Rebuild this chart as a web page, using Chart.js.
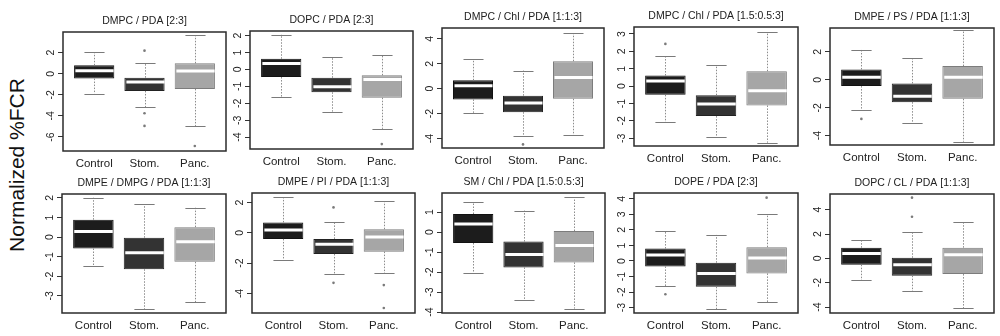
<!DOCTYPE html>
<html>
<head>
<meta charset="utf-8">
<script src="https://cdn.jsdelivr.net/npm/chart.js@4.4.0/dist/chart.umd.min.js"></script>
<style>
  body { margin: 0; background: #fff; width: 1000px; height: 336px; overflow: hidden; position: relative;
         font-family: 'Liberation Sans', Arial, sans-serif; }
  .panel { position: absolute; }
  #ylab { position: absolute; left: 17px; top: 165px; transform: translate(-50%, -50%) rotate(-90deg);
          font-size: 21px; white-space: nowrap; color: #111; }
</style>
</head>
<body>
<div id="ylab">Normalized %FCR</div>
<script>
const categories = ['Control', 'Stom.', 'Panc.'];
const titles = [
  'DMPC / PDA [2:3]', 'DOPC / PDA [2:3]', 'DMPC / Chl / PDA [1:1:3]', 'DMPC / Chl / PDA [1.5:0.5:3]', 'DMPE / PS / PDA [1:1:3]',
  'DMPE / DMPG / PDA [1:1:3]', 'DMPE / PI / PDA [1:1:3]', 'SM / Chl / PDA [1.5:0.5:3]', 'DOPE / PDA [2:3]', 'DOPC / CL / PDA [1:1:3]'
];

// box plot statistics, one row per panel, one value per category
const whiskerLow = [
  [-1.89, -3.18, -4.95], [-1.65, -2.49, -3.51], [-1.93, -3.76, -3.70], [-2.07, -2.93, -3.25], [-2.13, -3.09, -4.43],
  [-1.47, -3.69, -3.31], [-1.77, -2.74, -2.65], [-2.05, -3.42, -3.83], [-1.62, -3.09, -2.66], [-1.81, -2.71, -4.08]
];
const q1 = [
  [-0.46, -1.63, -1.44], [-0.45, -1.35, -1.67], [-0.86, -1.88, -0.81], [-0.50, -1.72, -1.11], [-0.45, -1.60, -1.36],
  [-0.58, -1.64, -1.26], [-0.40, -1.39, -1.24], [-0.55, -1.77, -1.52], [-0.35, -1.66, -0.80], [-0.52, -1.42, -1.29]
];
const median = [
  [0.29, -0.78, 0.26], [0.35, -1.02, -0.59], [0.24, -1.15, 0.89], [0.29, -1.03, -0.27], [0.19, -1.17, 0.19],
  [0.29, -0.80, -0.24], [0.18, -0.75, -0.27], [0.40, -1.13, -0.68], [0.39, -0.80, 0.19], [0.41, -0.52, 0.30]
];
const q3 = [
  [0.80, -0.37, 0.99], [0.63, -0.49, -0.35], [0.67, -0.56, 2.20], [0.61, -0.52, 0.86], [0.74, -0.26, 0.98],
  [0.89, -0.03, 0.51], [0.69, -0.40, 0.24], [0.90, -0.48, 0.05], [0.80, -0.11, 0.89], [0.88, 0.05, 0.88]
];
const whiskerHigh = [
  [2.03, 1.05, 3.67], [2.06, 0.75, 0.88], [2.36, 1.45, 4.46], [1.74, 1.20, 3.10], [2.15, 1.53, 3.54],
  [2.01, 1.67, 1.50], [2.35, 0.71, 2.08], [1.50, 1.07, 1.73], [1.90, 1.68, 3.02], [1.53, 2.14, 2.99]
];
const outliers = [
  [[], [2.19, -3.75, -4.95], [-6.85]], [[], [], [-4.41]], [[], [-4.46], []], [[2.43], [], []], [[-2.8], [], []],
  [[], [], []], [[], [1.68, -3.3], [-3.45, -4.96]], [[], [], []], [[-2.14], [], [4.08]], [[], [4.99, 3.42], []]
];

const yTicks = [
  [-6, -4, -2, 0, 2], [-4, -3, -2, -1, 0, 1, 2], [-4, -2, 0, 2, 4], [-3, -2, -1, 0, 1, 2, 3], [-4, -2, 0, 2],
  [-3, -2, -1, 0, 1, 2], [-4, -2, 0, 2], [-4, -3, -2, -1, 0, 1], [-3, -2, -1, 0, 1, 2, 3, 4], [-4, -2, 0, 2, 4]
];
const yMin = [-7.33, -4.70, -4.75, -3.44, -4.67, -3.87, -5.29, -4.05, -3.35, -4.49];
const yMax = [3.96, 2.27, 4.86, 3.40, 3.71, 2.20, 2.63, 1.95, 4.38, 5.29];

// plot area of each panel on the page: left, top, right, bottom
const plotRects = [
  [63, 32, 227, 151], [250, 31, 414, 149], [442, 28, 605, 148], [634, 27, 799, 146], [830, 28, 995, 145],
  [62, 194, 226, 313], [252, 193, 416, 313], [442, 193, 605, 313], [634, 193, 799, 313], [830, 194, 995, 313]
];
const PAD_L = 34, PAD_T = 30, PAD_R = 3, PAD_B = 26;

const boxFill = ['#1c1c1c', '#333333', '#a6a6a6'];
const boxEdge = ['#111111', '#222222', '#7c7c7c'];
const FONT = "'Liberation Sans', Arial, sans-serif";

const boxExtras = {
  id: 'boxExtras',
  afterDatasetsDraw(chart) {
    const p = chart.options.plugins.boxExtras.panel;
    const xs = chart.scales.x, ys = chart.scales.y, ctx = chart.ctx;
    const bars = chart.getDatasetMeta(0).data;
    ctx.save();
    categories.forEach((c, i) => {
      const x = Math.round(xs.getPixelForValue(i + 1)) + 0.5;
      const half = bars[i].width / 2;
      ctx.strokeStyle = '#8c8c8c';
      ctx.lineWidth = 1;
      ctx.setLineDash([1.5, 1.5]);
      ctx.beginPath();
      ctx.moveTo(x, ys.getPixelForValue(q3[p][i]));
      ctx.lineTo(x, ys.getPixelForValue(whiskerHigh[p][i]));
      ctx.moveTo(x, ys.getPixelForValue(q1[p][i]));
      ctx.lineTo(x, ys.getPixelForValue(whiskerLow[p][i]));
      ctx.stroke();
      ctx.setLineDash([]);
      ctx.strokeStyle = '#7a7a7a';
      ctx.beginPath();
      [whiskerHigh, whiskerLow].forEach(arr => {
        const y = Math.round(ys.getPixelForValue(arr[p][i])) + 0.5;
        ctx.moveTo(x - half / 2, y);
        ctx.lineTo(x + half / 2, y);
      });
      ctx.stroke();
      const ym = ys.getPixelForValue(median[p][i]);
      ctx.strokeStyle = '#ffffff';
      ctx.lineWidth = 3;
      ctx.beginPath();
      ctx.moveTo(x - half + 1, ym);
      ctx.lineTo(x + half - 1, ym);
      ctx.stroke();
    });
    ctx.restore();
  },
  afterDraw(chart) {
    const p = chart.options.plugins.boxExtras.panel;
    const a = chart.chartArea, ys = chart.scales.y, ctx = chart.ctx;
    ctx.save();
    ctx.strokeStyle = '#2b2b2b';
    ctx.lineWidth = 1.5;
    ctx.strokeRect(a.left, a.top, a.right - a.left, a.bottom - a.top);
    ctx.fillStyle = '#222';
    ctx.font = '10.5px ' + FONT;
    ctx.textAlign = 'center';
    ctx.textBaseline = 'middle';
    yTicks[p].forEach(v => {
      ctx.save();
      ctx.translate(a.left - 12, ys.getPixelForValue(v));
      ctx.rotate(-Math.PI / 2);
      ctx.fillText(String(v), 0, 0);
      ctx.restore();
    });
    ctx.font = '10.5px ' + FONT;
    ctx.fillText(titles[p], (a.left + a.right) / 2, a.top - 11);
    ctx.restore();
  }
};

plotRects.forEach((r, p) => {
  const div = document.createElement('div');
  div.className = 'panel';
  const w = r[2] - r[0] + PAD_L + PAD_R;
  const h = r[3] - r[1] + PAD_T + PAD_B;
  div.style.left = (r[0] - PAD_L) + 'px';
  div.style.top = (r[1] - PAD_T) + 'px';
  const canvas = document.createElement('canvas');
  canvas.width = w;
  canvas.height = h;
  canvas.style.width = w + 'px';
  canvas.style.height = h + 'px';
  div.appendChild(canvas);
  document.body.appendChild(div);

  const outlierPoints = [];
  outliers[p].forEach((list, i) => list.forEach(v => outlierPoints.push({ x: i + 1, y: v })));

  new Chart(canvas, {
    type: 'bar',
    data: {
      datasets: [
        {
          data: categories.map((c, i) => ({ x: i + 1, y: [q1[p][i], q3[p][i]] })),
          backgroundColor: boxFill,
          borderColor: boxEdge,
          borderWidth: 1,
          borderSkipped: false,
          categoryPercentage: 1,
          barPercentage: 0.8
        },
        {
          type: 'scatter',
          data: outlierPoints,
          pointRadius: 1.3,
          pointBackgroundColor: '#7a7a7a',
          pointBorderWidth: 0
        }
      ]
    },
    options: {
      responsive: false,
      devicePixelRatio: 1,
      animation: false,
      layout: { padding: { top: PAD_T, right: PAD_R, left: 0, bottom: 0 } },
      plugins: { legend: { display: false }, tooltip: { enabled: false }, boxExtras: { panel: p } },
      scales: {
        x: {
          type: 'linear',
          offset: false,
          min: 0.38,
          max: 3.62,
          afterBuildTicks: s => { s.ticks = categories.map((c, i) => ({ value: i + 1 })); },
          afterFit: s => { s.height = PAD_B; },
          grid: { display: false, drawTicks: false },
          border: { display: false },
          ticks: {
            padding: 6,
            color: '#222',
            font: { size: 11.5, family: FONT },
            callback: v => categories[v - 1]
          }
        },
        y: {
          min: yMin[p],
          max: yMax[p],
          afterBuildTicks: s => { s.ticks = yTicks[p].map(v => ({ value: v })); },
          afterFit: s => { s.width = PAD_L; },
          grid: { drawOnChartArea: false, drawTicks: true, tickLength: 5, color: '#333' },
          border: { display: false },
          ticks: { display: false }
        }
      }
    },
    plugins: [boxExtras]
  });
});
</script>
</body>
</html>
